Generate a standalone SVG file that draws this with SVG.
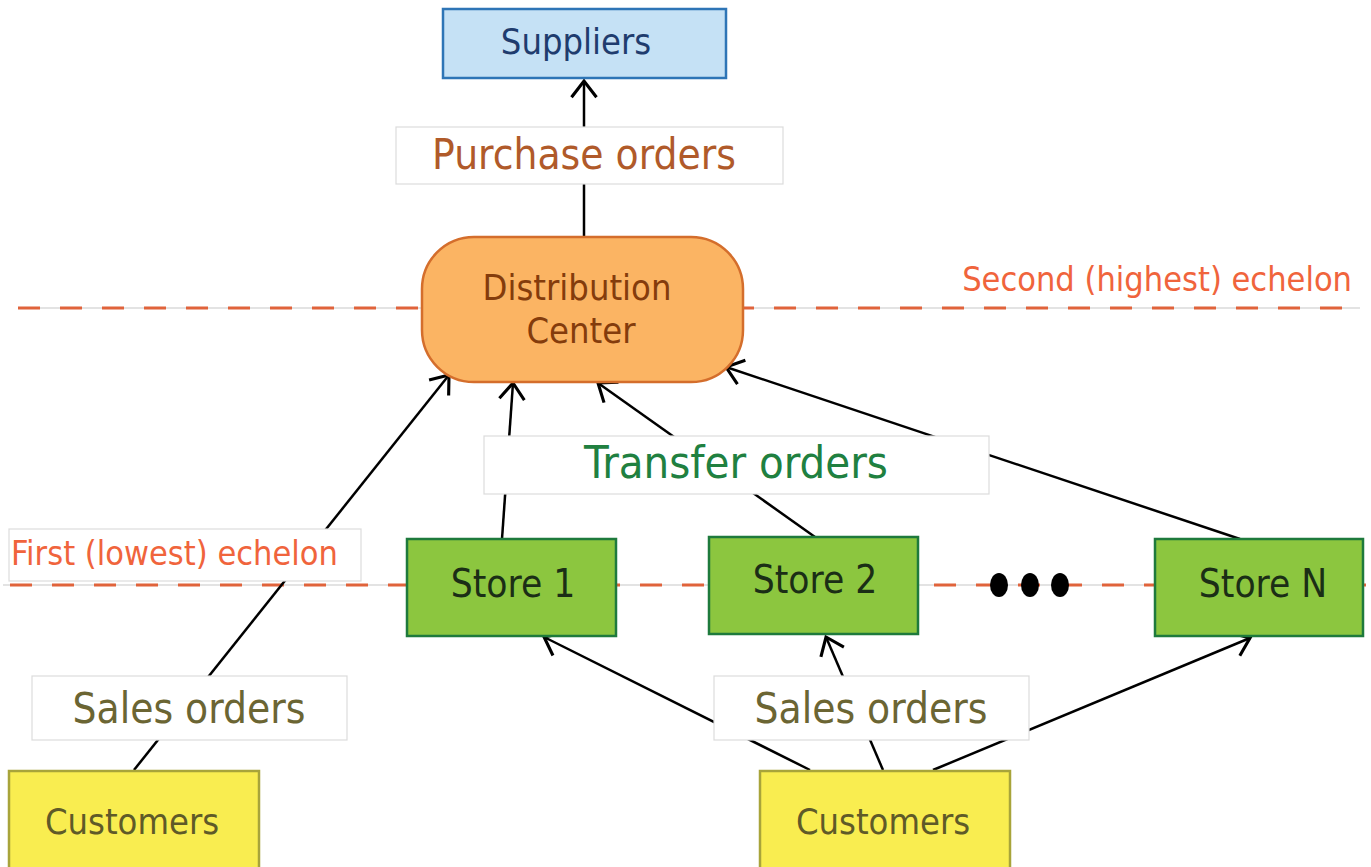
<svg xmlns="http://www.w3.org/2000/svg" width="1371" height="867" viewBox="0 0 1371 867">
  <defs>
    <marker id="arrow" markerUnits="userSpaceOnUse" markerWidth="30" markerHeight="30" viewBox="-16 -12 20 24" refX="0" refY="0" orient="auto">
      <path d="M-13,-10 L0,0 L-13,10" fill="none" stroke="#000" stroke-width="2.5"/>
    </marker>
    <style>
      text { font-family: "DejaVu Sans Condensed", "DejaVu Sans", sans-serif; font-stretch: condensed; }
      .c { text-anchor: middle; }
      .conn { stroke: #000; stroke-width: 2.5; fill: none; }
      .guide { stroke: #e3e3e3; stroke-width: 2; }
      .dash { stroke: #e0633b; stroke-width: 3; stroke-dasharray: 22 20; }
      .label { fill: #fff; stroke: #dcdcdc; stroke-width: 1.2; }
      .echelon { fill: #f0643c; font-size: 34px; }
      .store rect { fill: #8cc63f; stroke: #1e7a3c; stroke-width: 2.5; }
      .store text { fill: #1b2e16; font-size: 38.5px; }
      .cust rect { fill: #f9ed50; stroke: #a8a43a; stroke-width: 2.5; }
      .cust text { fill: #5f5a28; font-size: 36px; }
      .sales { fill: #6b6533; font-size: 42px; }
    </style>
  </defs>

  <!-- echelon guide lines -->
  <g id="echelons">
    <line class="guide" x1="18" y1="308" x2="1360" y2="308"/>
    <line class="dash" x1="18" y1="308" x2="1360" y2="308"/>
    <line class="guide" x1="3" y1="585" x2="1366" y2="585"/>
    <line class="dash" x1="10" y1="585" x2="1366" y2="585"/>
    <text class="echelon" x="1352" y="291" text-anchor="end">Second (highest) echelon</text>
  </g>

  <!-- connectors -->
  <g id="connectors">
    <line class="conn" x1="584" y1="237" x2="584" y2="81" marker-end="url(#arrow)"/>
    <line class="conn" x1="134" y1="770" x2="449" y2="375" marker-end="url(#arrow)"/>
    <line class="conn" x1="502" y1="539" x2="513" y2="383" marker-end="url(#arrow)"/>
    <line class="conn" x1="815" y1="537" x2="598" y2="383" marker-end="url(#arrow)"/>
    <line class="conn" x1="1240" y1="539" x2="726" y2="367" marker-end="url(#arrow)"/>
    <line class="conn" x1="810" y1="770" x2="544" y2="637" marker-end="url(#arrow)"/>
    <line class="conn" x1="883" y1="770" x2="826" y2="637" marker-end="url(#arrow)"/>
    <line class="conn" x1="933" y1="770" x2="1250" y2="638" marker-end="url(#arrow)"/>
  </g>

  <!-- connector labels -->
  <g id="label-purchase">
    <rect class="label" x="396" y="127" width="387" height="57"/>
    <text class="c" x="584" y="169" fill="#b05a2a" font-size="42">Purchase orders</text>
  </g>
  <g id="label-transfer">
    <rect class="label" x="484" y="436" width="505" height="58"/>
    <text class="c" x="736" y="478" fill="#208040" font-size="45">Transfer orders</text>
  </g>
  <g id="label-first-echelon">
    <rect class="label" x="9" y="529" width="352" height="52"/>
    <text class="echelon" x="11" y="565">First (lowest) echelon</text>
  </g>
  <g id="label-sales-left">
    <rect class="label" x="32" y="676" width="315" height="64"/>
    <text class="c sales" x="189" y="723">Sales orders</text>
  </g>
  <g id="label-sales-right">
    <rect class="label" x="714" y="676" width="315" height="64"/>
    <text class="c sales" x="871" y="723">Sales orders</text>
  </g>

  <!-- nodes -->
  <g id="suppliers">
    <rect x="443" y="9" width="283" height="69" fill="#c5e1f5" stroke="#2e75b6" stroke-width="2.5"/>
    <text class="c" x="576" y="54" fill="#1f3c6e" font-size="36">Suppliers</text>
  </g>
  <g id="distribution-center">
    <rect x="422" y="237" width="321" height="145" rx="52" ry="52" fill="#fbb463" stroke="#d46e2c" stroke-width="2.5"/>
    <text class="c" x="577" y="300" fill="#843c0c" font-size="36">Distribution</text>
    <text class="c" x="581" y="343" fill="#843c0c" font-size="36">Center</text>
  </g>
  <g id="store-1" class="store">
    <rect x="407" y="539" width="209" height="97"/>
    <text class="c" x="513" y="597">Store 1</text>
  </g>
  <g id="store-2" class="store">
    <rect x="709" y="537" width="209" height="97"/>
    <text class="c" x="815" y="593">Store 2</text>
  </g>
  <g id="store-n" class="store">
    <rect x="1155" y="539" width="208" height="97"/>
    <text class="c" x="1263" y="597">Store N</text>
  </g>
  <g id="ellipsis">
    <ellipse cx="999" cy="585" rx="9" ry="12" fill="#000"/>
    <ellipse cx="1030" cy="585" rx="9" ry="12" fill="#000"/>
    <ellipse cx="1060" cy="585" rx="9" ry="12" fill="#000"/>
  </g>
  <g id="customers-left" class="cust">
    <rect x="9" y="771" width="250" height="110"/>
    <text class="c" x="132" y="834">Customers</text>
  </g>
  <g id="customers-right" class="cust">
    <rect x="760" y="771" width="250" height="110"/>
    <text class="c" x="883" y="834">Customers</text>
  </g>
</svg>
